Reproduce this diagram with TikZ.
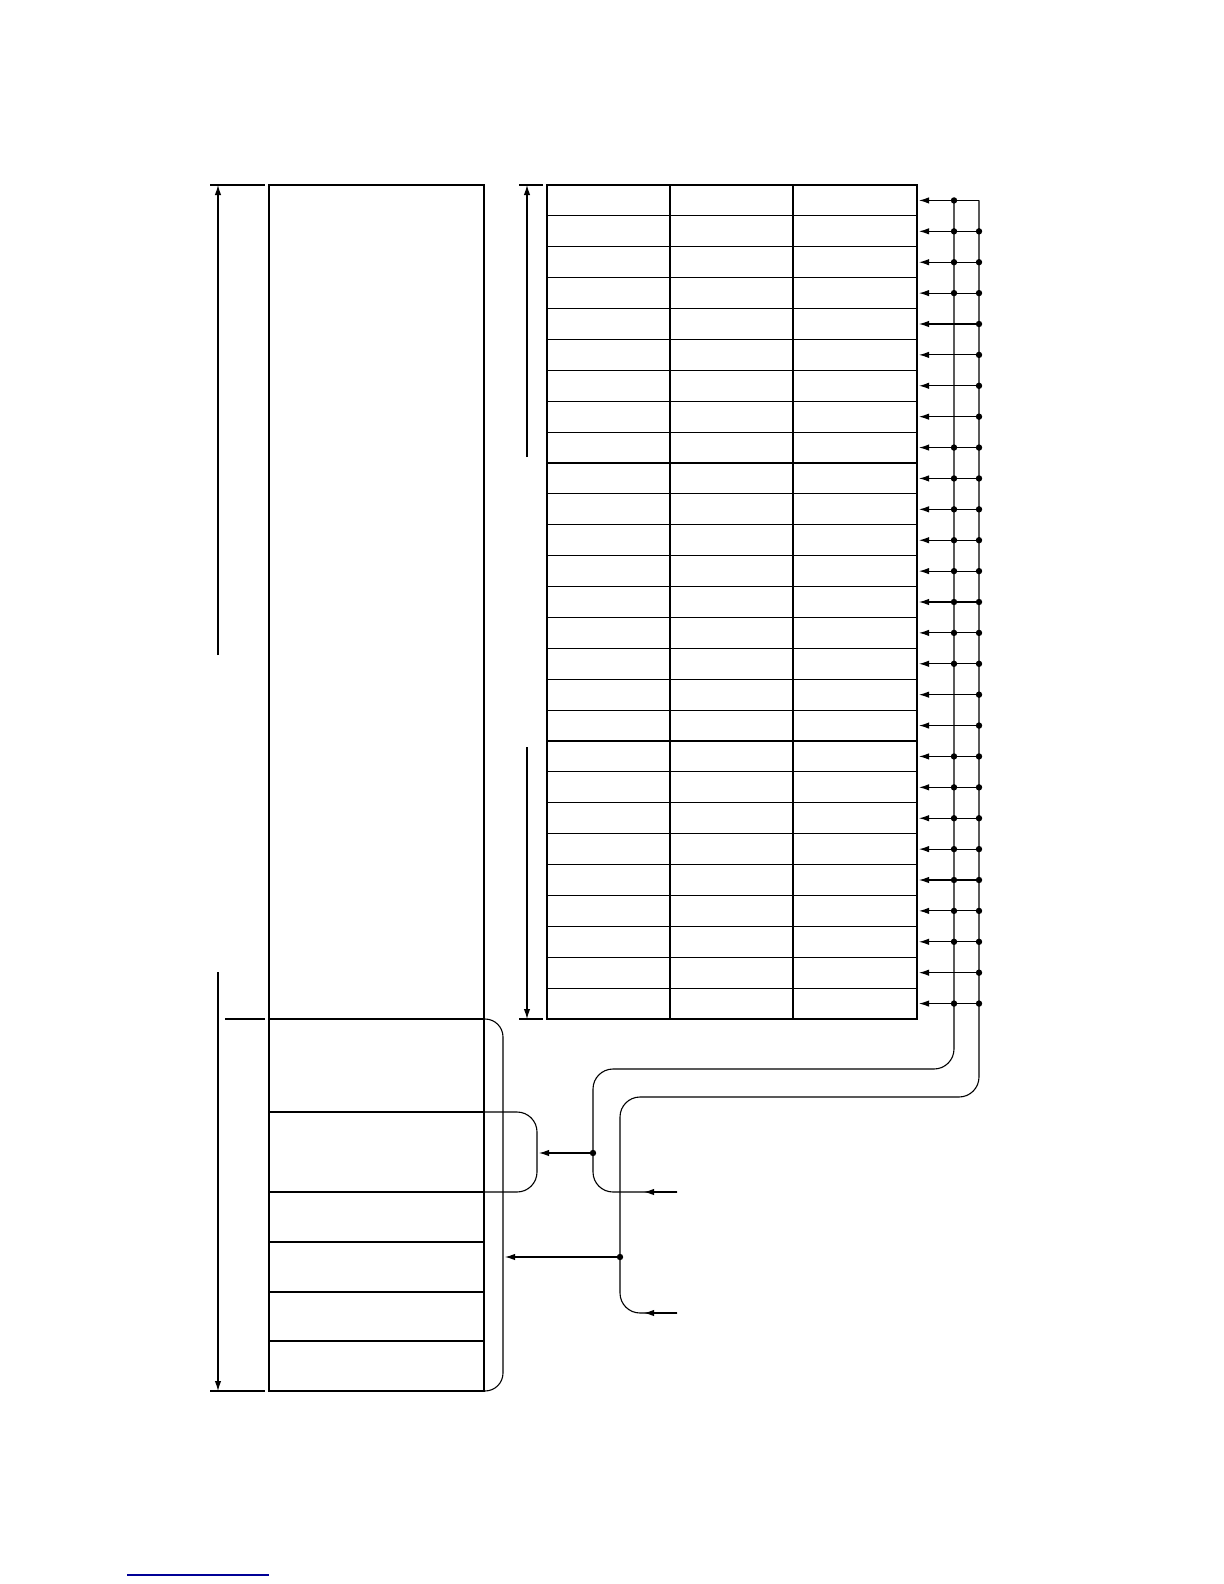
\documentclass[tikz,border=0pt]{standalone}
\usetikzlibrary{arrows.meta}
\begin{document}
\begin{tikzpicture}[x=0.5pt,y=-0.5pt,line width=0.55pt,
  arr/.style={-{Latex[length=5pt,width=3.2pt]}},
  jdot/.style={fill,circle,inner sep=0pt,minimum size=3.2pt},
  frame/.style={line width=0.9pt}]
\useasboundingbox (0,0) rectangle (1224,1584);
\def\rh{30.889}
% ---------- left box ----------
\draw[frame] (269,185) rectangle (484,1391);
\foreach \y in {1019,1112,1192,1242,1292,1341} \draw (269,\y) -- (484,\y);
% left dimension arrows
\coordinate (LA1) at (218,185);
\coordinate (LA1s) at (218,655);
\draw (210,185) -- (265,185);
\draw[arr] (LA1s) -- (LA1);
\draw (225,1019) -- (265,1019);
\coordinate (LA2) at (218,1391);
\coordinate (LA2s) at (218,972);
\draw (210,1391) -- (265,1391);
\draw[arr] (LA2s) -- (LA2);
% ---------- right table ----------
\draw[frame] (547,185) rectangle (917,1019);
\foreach \i in {1,...,26} \draw (547,185+\i*\rh) -- (917,185+\i*\rh);
\draw (670,185) -- (670,1019);
\draw (793,185) -- (793,1019);
% table dimension arrows
\coordinate (RA1) at (527,185);
\coordinate (RA1s) at (527,457);
\draw (519,185) -- (543,185);
\draw[arr] (RA1s) -- (RA1);
\coordinate (RA2) at (527,1019);
\coordinate (RA2s) at (527,747);
\draw (519,1019) -- (543,1019);
\draw[arr] (RA2s) -- (RA2);
% ---------- buses ----------
\coordinate (IB) at (954,200.44);
\coordinate (OB) at (979,200.44);
\draw (IB) -- (OB);
% inner bus path
\coordinate (InEnd) at (677,1192);
\draw[rounded corners=10pt] (IB) -- (954,1069) -- (593,1069) -- (593,1192) -- (InEnd);
\draw[arr] (InEnd) -- (644,1192);
% outer bus path
\coordinate (OutEnd) at (677,1313);
\draw[rounded corners=10pt] (OB) -- (979,1097) -- (620,1097) -- (620,1313) -- (OutEnd);
\draw[arr] (OutEnd) -- (644,1313);
% row arrows
\foreach \i in {0,...,26} {
  \draw[arr] (979,185+\rh/2+\i*\rh) -- (919,185+\rh/2+\i*\rh);
}
% dots: inner bus
\foreach \i in {0,1,2,3,8,9,10,11,12,13,14,15,18,19,20,21,22,23,24,26}
  \node[jdot] at (954,185+\rh/2+\i*\rh) {};
% dots: outer bus
\foreach \i in {1,...,26}
  \node[jdot] at (979,185+\rh/2+\i*\rh) {};
% ---------- brackets ----------
\draw[rounded corners=10pt] (484,1112) -- (537,1112) -- (537,1192) -- (484,1192);
\draw[rounded corners=9pt] (484,1019) -- (503,1019) -- (503,1391) -- (484,1391);
\node[jdot] (D1) at (593,1153) {};
\node[jdot] (D2) at (620,1257) {};
\draw[arr] (D1.center) -- (539,1153);
\draw[arr] (D2.center) -- (505,1257);
% ---------- blue rule ----------
\draw[color={rgb,255:red,0;green,0;blue,150},line width=0.9pt] (127,1575) -- (269,1575);
\end{tikzpicture}
\end{document}
